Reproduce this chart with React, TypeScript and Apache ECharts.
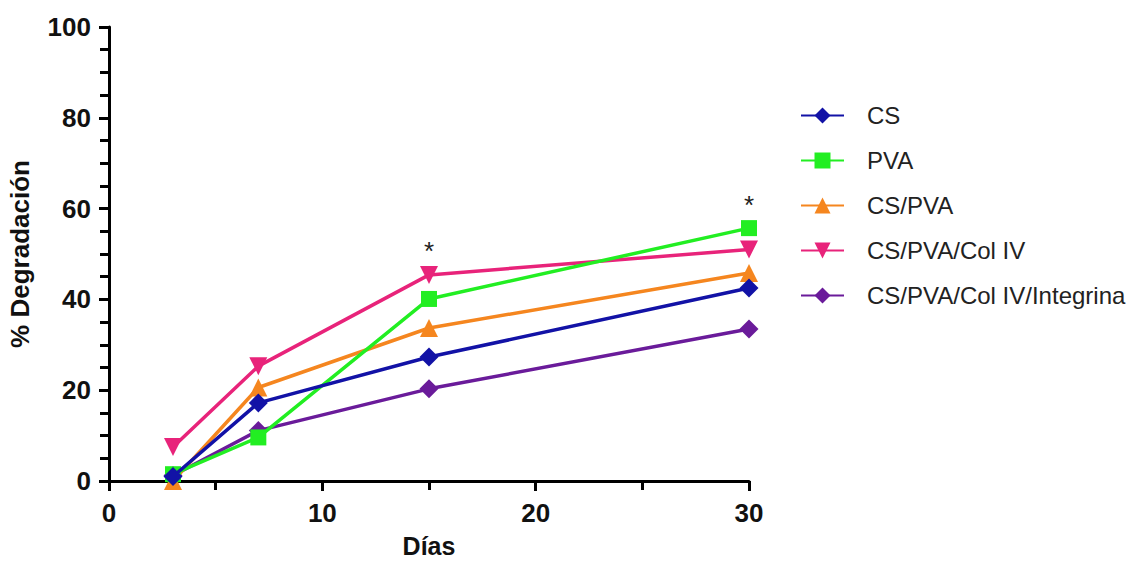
import React, { useEffect, useRef } from "react";
import * as echarts from "echarts";

const days = [3, 7, 15, 30];
const seriesNames = ["CS", "PVA", "CS/PVA", "CS/PVA/Col IV", "CS/PVA/Col IV/Integrina"];
const cs = [1, 17.2, 27.3, 42.5];
const pva = [1.5, 9.6, 40.1, 55.7];
const csPva = [0, 20.6, 33.7, 45.8];
const colIV = [7.5, 25.3, 45.4, 51.0];
const integrina = [1.2, 11.1, 20.3, 33.5];
const yTicks = [0, 20, 40, 60, 80, 100];
const xTicks = [0, 10, 20, 30];
// significance marks: [series index, point index]
const stars = [
  [3, 2],
  [1, 3],
];

const colors = ["#1212a6", "#22ee22", "#f5861f", "#e8237a", "#6a1b9a"];
const symbols = ["diamond", "rect", "triangle", "triangle", "diamond"];
const rotations = [0, 0, 0, 180, 0];
const sizes = [19, 16, 18, 18, 19];

export default function App() {
  const ref = useRef<HTMLDivElement>(null);
  useEffect(() => {
    const chart = echarts.init(ref.current!, null, { renderer: "svg" });
    const all = [cs, pva, csPva, colIV, integrina];
    const font = "Liberation Sans, Arial, sans-serif";
    const series = all.map((vals, si) => ({
      name: seriesNames[si],
      type: "line",
      symbol: symbols[si],
      symbolRotate: rotations[si],
      symbolSize: sizes[si],
      color: colors[si],
      lineStyle: { width: 3.5, color: colors[si] },
      itemStyle: { color: colors[si] },
      z: 10 - si,
      data: vals.map((v, i) => {
        const star = stars.some(([s, p]) => s === si && p === i);
        const item: any = { value: [days[i], v] };
        if (star) {
          item.label = {
            show: true,
            formatter: "*",
            position: "top",
            distance: 2,
            fontSize: 26,
            fontFamily: font,
            color: "#222",
          };
        }
        return item;
      }),
    }));
    chart.setOption({
      animation: false,
      backgroundColor: "#fff",
      grid: { left: 109, top: 27, right: 385, bottom: 81, outerBoundsMode: "none", containLabel: false },
      xAxis: {
        type: "value",
        min: 0,
        max: 30,
        interval: 10,
        name: "Días",
        nameLocation: "middle",
        nameGap: 52,
        nameTextStyle: { fontSize: 25, fontWeight: "bold", fontFamily: font, color: "#111", lineHeight: 26 },
        axisLine: { lineStyle: { color: "#000", width: 3 } },
        axisTick: { length: 10, lineStyle: { color: "#000", width: 3 } },
        minorTick: { show: true, splitNumber: 2, length: 9, lineStyle: { color: "#000", width: 3 } },
        axisLabel: {
          fontSize: 26,
          fontWeight: "bold",
          fontFamily: font,
          color: "#111",
          margin: 19,
          customValues: xTicks,
        },
        splitLine: { show: false },
      },
      yAxis: {
        type: "value",
        min: 0,
        max: 100,
        interval: 20,
        name: "% Degradación",
        nameLocation: "middle",
        nameGap: 76,
        nameTextStyle: { fontSize: 26, fontWeight: "bold", fontFamily: font, color: "#111" },
        axisLine: { show: true, lineStyle: { color: "#000", width: 3 } },
        axisTick: { show: true, length: 10, lineStyle: { color: "#000", width: 3 } },
        minorTick: { show: true, splitNumber: 4, length: 9, lineStyle: { color: "#000", width: 3 } },
        axisLabel: {
          fontSize: 26,
          fontWeight: "bold",
          fontFamily: font,
          color: "#111",
          margin: 18,
          customValues: yTicks,
        },
        splitLine: { show: false },
      },
      legend: {
        orient: "vertical",
        left: 795,
        top: 98,
        itemWidth: 43,
        itemHeight: 20,
        itemGap: 20,
        textStyle: {
          fontSize: 24,
          fontFamily: font,
          color: "#222",
          lineHeight: 25,
          padding: [0, 0, 0, 18],
        },
        data: seriesNames,
      },
      series,
    });
    return () => chart.dispose();
  }, []);
  return <div ref={ref} style={{ width: 1134, height: 562, position: "absolute", left: 0, top: 0 }} />;
}
